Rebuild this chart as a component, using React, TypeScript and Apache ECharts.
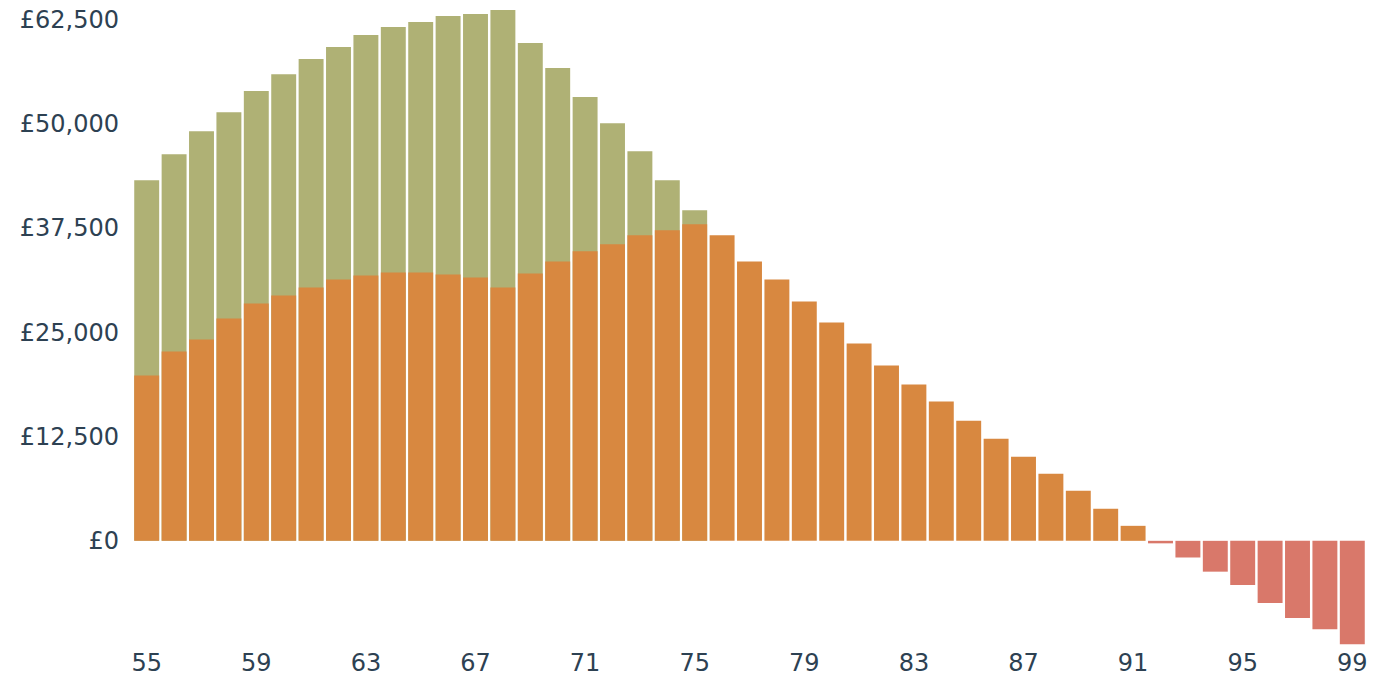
import React, { useEffect, useRef } from "react";
import * as echarts from "echarts";

const ages: string[] = [
  "55", "56", "57", "58", "59", "60", "61", "62", "63", "64",
  "65", "66", "67", "68", "69", "70", "71", "72", "73", "74",
  "75", "76", "77", "78", "79", "80", "81", "82", "83", "84",
  "85", "86", "87", "88", "89", "90", "91", "92", "93", "94",
  "95", "96", "97", "98", "99",
];

// Top of the green bars (total), null where there is no green part
const totalValues: (number | null)[] = [
  43270, 46390, 49160, 51440, 53970, 56000, 57810, 59250, 60700, 61660,
  62260, 62980, 63220, 63700, 59740, 56730, 53250, 50120, 46750, 43270,
  39660, null, null, null, null, null, null, null, null, null,
  null, null, null, null, null, null, null, null, null, null,
  null, null, null, null, null,
];

// Orange (positive) / red (negative) bars
const netValues: number[] = [
  19830, 22720, 24160, 26680, 28490, 29450, 30410, 31370, 31850, 32210,
  32210, 31970, 31610, 30410, 32090, 33530, 34740, 35580, 36660, 37260,
  37980, 36660, 33530, 31370, 28730, 26200, 23680, 21030, 18750, 16710,
  14420, 12260, 10100, 8050, 6010, 3850, 1800, -300, -2000, -3700,
  -5300, -7450, -9250, -10600, -12400,
];

const GREEN = "#AFB175";
const ORANGE = "#D88840";
const RED = "#D9786A";
const TEXT = "#2D4152";
const FONT = "'DejaVu Sans', sans-serif";

export default function App() {
  const ref = useRef<HTMLDivElement>(null);

  useEffect(() => {
    if (!ref.current) return;
    const chart = echarts.init(ref.current, undefined, { renderer: "svg" });
    chart.setOption({
      animation: false,
      grid: { left: 133, right: 20, top: 20, bottom: 32, containLabel: false },
      xAxis: {
        type: "category",
        data: ages,
        axisLine: { show: false, onZero: false },
        axisTick: { show: false },
        axisLabel: {
          interval: 3,
          color: TEXT,
          fontSize: 24,
          fontFamily: FONT,
          margin: 6,
        },
      },
      yAxis: {
        type: "value",
        min: -12500,
        max: 62500,
        interval: 12500,
        splitLine: { show: false },
        axisLine: { show: false },
        axisTick: { show: false },
        axisLabel: {
          color: TEXT,
          fontSize: 24,
          fontFamily: FONT,
          margin: 14,
          formatter: (v: number) =>
            v < 0 ? "" : "£" + v.toLocaleString("en-GB"),
        },
      },
      series: [
        {
          type: "bar",
          data: totalValues,
          itemStyle: { color: GREEN },
          barCategoryGap: "9%",
          barGap: "-100%",
          clip: false,
          silent: true,
        },
        {
          type: "bar",
          data: netValues.map((v) => ({
            value: v,
            itemStyle: { color: v < 0 ? RED : ORANGE },
          })),
          barCategoryGap: "9%",
          barGap: "-100%",
          clip: false,
          silent: true,
        },
      ],
    });
    return () => chart.dispose();
  }, []);

  return (
    <div
      ref={ref}
      style={{ position: "absolute", left: 0, top: 0, width: 1386, height: 677 }}
    />
  );
}
